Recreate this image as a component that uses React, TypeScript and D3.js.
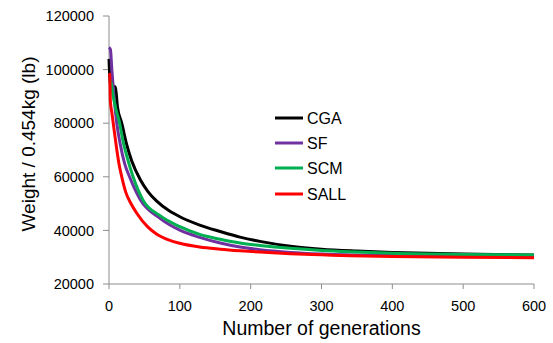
import React from 'react';
import * as d3 from 'd3';

// convergence curves (generation, weight)
const cgaGens = [0, 2, 9, 12, 18, 25, 32, 44, 55, 67, 85, 100, 128, 157, 185, 213, 256, 300, 350, 400, 500, 600];
const cgaWeights = [104000, 94000, 93500, 86000, 80000, 72000, 66000, 59000, 54500, 51000, 47300, 45100, 42000, 39600, 37500, 35900, 34100, 33000, 32300, 31800, 31150, 30800];

const sfGens = [0, 2, 4, 7, 11, 16, 22, 29, 44, 72, 100, 128, 157, 185, 213, 256, 300, 400, 500, 600];
const sfWeights = [108300, 107500, 100000, 90000, 80000, 72000, 65000, 60000, 51500, 44500, 40100, 37400, 35300, 33800, 32800, 31800, 31200, 30600, 30300, 30100];

const scmGens = [0, 3, 6, 10, 15, 20, 27, 34, 48, 72, 100, 128, 157, 185, 213, 256, 300, 340, 400, 500, 600];
const scmWeights = [96500, 95000, 90000, 85000, 80000, 73000, 66000, 60000, 51300, 45500, 41400, 38500, 36700, 35300, 34400, 33300, 32500, 32000, 31450, 31000, 30800];

const sallGens = [0, 1, 2, 4, 6, 10, 14, 18, 24, 30, 39, 55, 67, 85, 100, 128, 157, 185, 213, 256, 300, 340, 400, 500, 600];
const sallWeights = [98600, 98000, 88000, 84000, 80000, 72000, 65000, 60000, 54000, 50500, 46500, 41200, 38700, 36400, 35200, 33800, 33000, 32400, 31900, 31300, 30900, 30550, 30250, 30000, 29800];

const seriesNames = ['CGA', 'SF', 'SCM', 'SALL'];
const seriesColors = ['#000000', '#7030A0', '#00B050', '#FF0000'];

const xTicks = [0, 100, 200, 300, 400, 500, 600];
const yTicks = [20000, 40000, 60000, 80000, 100000, 120000];

const W = 553;
const H = 343;
const margin = { top: 16, right: 19, bottom: 59, left: 109 };
const FONT = '"Liberation Sans", Arial, sans-serif';
const AXIS = '#8c8c8c';

const App: React.FC = () => {
  const x = d3.scaleLinear().domain([0, 600]).range([margin.left, W - margin.right]);
  const y = d3.scaleLinear().domain([20000, 120000]).range([H - margin.bottom, margin.top]);

  const series = [
    { gens: cgaGens, weights: cgaWeights },
    { gens: sfGens, weights: sfWeights },
    { gens: scmGens, weights: scmWeights },
    { gens: sallGens, weights: sallWeights },
  ];

  const line = d3
    .line<[number, number]>()
    .x((d) => x(d[0]))
    .y((d) => y(d[1]))
    .curve(d3.curveMonotoneX);

  const y0 = y(20000);

  return (
    <svg width={W} height={H} style={{ position: 'absolute', left: 0, top: 0 }} fontFamily={FONT}>
      {/* axes */}
      <line x1={x(0)} x2={x(0)} y1={y(120000)} y2={y0} stroke={AXIS} />
      <line x1={x(0)} x2={x(600)} y1={y0} y2={y0} stroke={AXIS} />
      {yTicks.map((t) => (
        <g key={t}>
          <line x1={x(0) - 6} x2={x(0)} y1={y(t)} y2={y(t)} stroke={AXIS} />
          <text x={x(0) - 15} y={y(t)} dy="0.36em" textAnchor="end" fontSize={14.5} fill="#000">
            {t}
          </text>
        </g>
      ))}
      {xTicks.map((t) => (
        <g key={t}>
          <line x1={x(t)} x2={x(t)} y1={y0} y2={y0 + 5} stroke={AXIS} />
          <text x={x(t)} y={311} textAnchor="middle" fontSize={14.5} fill="#000">
            {t}
          </text>
        </g>
      ))}

      {/* series */}
      {series.map((s, i) => (
        <path
          key={seriesNames[i]}
          d={line(s.gens.map((g, j) => [g, s.weights[j]] as [number, number])) || ''}
          fill="none"
          stroke={seriesColors[i]}
          strokeWidth={3}
          strokeLinejoin="round"
        />
      ))}

      {/* legend */}
      {seriesNames.map((name, i) => {
        const ly = [118, 143, 168, 194][i];
        return (
          <g key={name}>
            <line x1={275} x2={303} y1={ly} y2={ly} stroke={seriesColors[i]} strokeWidth={3} />
            <text x={307} y={ly} dy="0.36em" fontSize={16} fill="#000">
              {name}
            </text>
          </g>
        );
      })}

      {/* titles */}
      <text x={(x(0) + x(600)) / 2} y={335} textAnchor="middle" fontSize={19.5} fill="#000">
        Number of generations
      </text>
      <text
        transform={`translate(35,144) rotate(-90)`}
        textAnchor="middle"
        fontSize={19}
        fill="#000"
      >
        Weight / 0.454kg (lb)
      </text>
    </svg>
  );
};

export default App;
